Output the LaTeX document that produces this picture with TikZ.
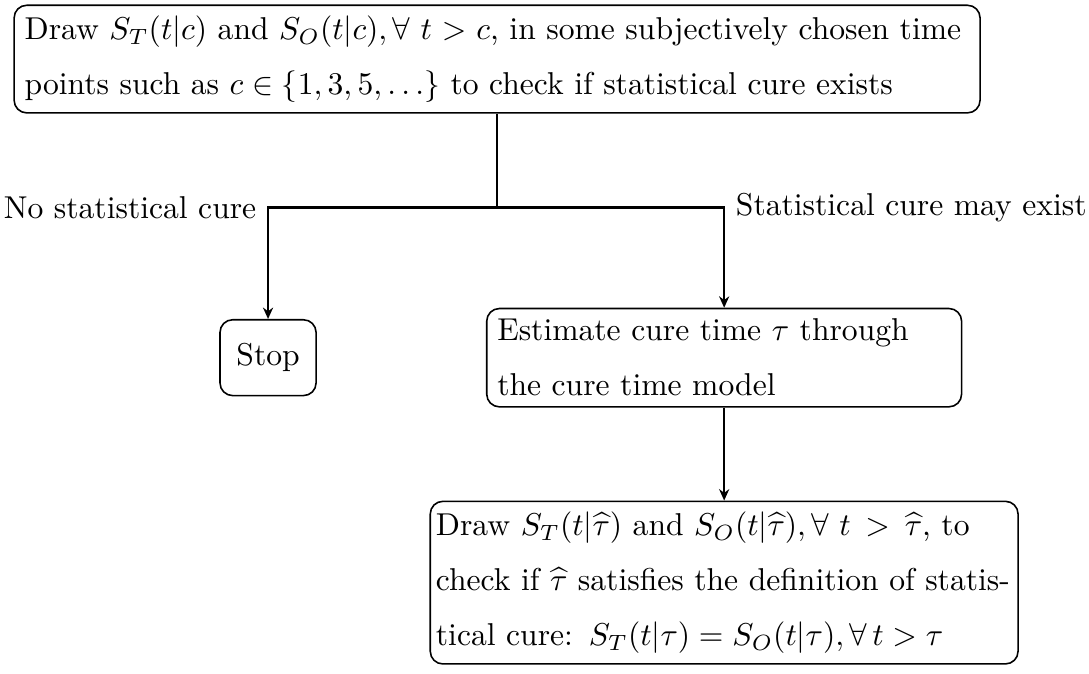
\documentclass[tikz,border=0pt]{standalone}
\usepackage{amsmath}
\usepackage{amssymb}
\usepackage{xcolor}
\usepackage{tikz}
\usetikzlibrary{arrows.meta,positioning}
\definecolor{fcedge}{RGB}{0,0,0}
\tikzset{
  fcbox/.style={
    draw=fcedge, line width=0.5pt, rounded corners=4pt,
    inner sep=3.33pt, font=\fontsize{10}{17.4}\selectfont
  },
  topbox/.style={fcbox, text width=299pt},
  estbox/.style={fcbox, text width=143.6pt, align=left},
  chkbox/.style={fcbox, text width=182.4pt, inner xsep=1.8pt},
  stopbox/.style={fcbox, minimum width=30.4pt, minimum height=24pt, align=center},
  arr/.style={-{Stealth[length=3.6pt,width=3.2pt]}, draw=fcedge, line width=0.8pt},
  lnk/.style={draw=fcedge, line width=0.8pt},
  lbl/.style={font=\normalsize, inner sep=3.33pt}
}
\begin{document}
\begin{tikzpicture}
  \useasboundingbox (0,0) rectangle (344.6pt,-213pt);

  \node[topbox] (top) at (157.3pt,-18.7pt)
    {Draw $S_T(t|c)$ and $S_O(t|c),\forall\ t > c$, in some subjectively chosen time
     points such as $c \in \{1,3,5,\ldots\}$ to check if statistical cure exists};
  \coordinate[below=29.7pt of top] (split);

  \node[estbox, below=31.7pt of split, xshift=71.85pt] (est)
    {Estimate cure time $\tau$ through\\the cure time model};
  \node[stopbox, left=53.5pt of est] (stop) {Stop};
  \node[chkbox, below=29.4pt of est] (chk)
    {Draw $S_T(t|\widehat{\tau})$ and $S_O(t|\widehat{\tau}),\forall\ t > \widehat{\tau}$, to
     check if $\widehat{\tau}$ satisfies the definition of statis-\linebreak tical cure:
     $S_T(t|\tau) = S_O(t|\tau),\forall\, t > \tau$};

  % branches
  \draw[lnk] (top) -- (split);
  \draw[arr] (split) -| node[lbl, pos=0.5, anchor=east] {No statistical cure} (stop);
  \draw[arr] (split) -| node[lbl, pos=0.5, anchor=west] {Statistical cure may exist} (est);
  \draw[arr] (est) -- (chk);
\end{tikzpicture}
\end{document}
